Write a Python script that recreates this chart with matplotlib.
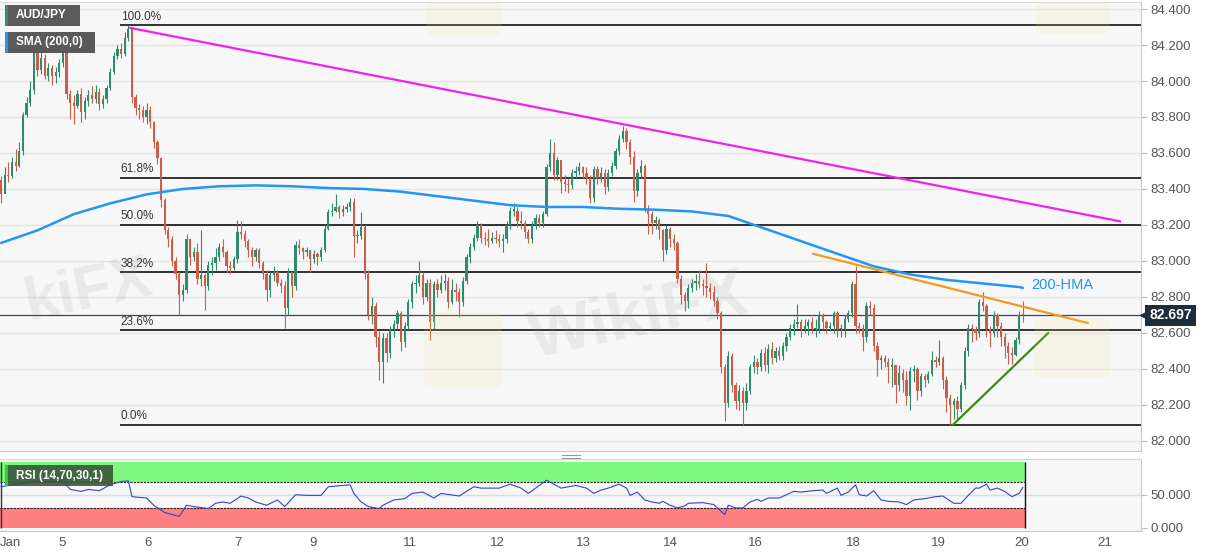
import numpy as np
import matplotlib
matplotlib.use('Agg')
import matplotlib.pyplot as plt
from matplotlib.patches import Rectangle, FancyBboxPatch
from matplotlib.lines import Line2D
import matplotlib.transforms as mtransforms

plt.rcParams['font.family'] = ['Liberation Sans', 'DejaVu Sans']

# ---------------- data (AUD/JPY hourly) ----------------
first_open = 83.45
closes = [
    83.37, 83.48, 83.47, 83.55, 83.53, 83.61, 83.81, 83.88, 83.95, 84.16, 84.06, 84.13, 84.03, 84.07, 84.03, 84.05, 84.10, 84.16,
    83.93, 83.88, 83.86, 83.93, 83.83, 83.89, 83.92, 83.90, 83.94, 83.87, 83.90, 83.96, 84.05, 84.14, 84.18, 84.15, 84.24, 84.29,
    83.91, 83.85, 83.84, 83.80, 83.84, 83.77, 83.66, 83.57, 83.34, 83.17, 83.12, 83.00, 82.93,
    82.81, 82.84, 83.12, 83.02, 83.05, 82.90, 82.92, 82.86, 82.98, 82.99, 83.02, 83.08, 83.05, 82.97, 82.96, 83.01, 83.16, 83.15,
    83.11, 83.06, 83.02, 83.06, 82.99, 82.93, 82.84, 82.92, 82.94, 82.88, 82.86, 82.74, 82.94, 82.86, 83.09, 83.07, 83.05, 83.06,
    83.01, 83.04, 83.02, 83.06, 83.18, 83.27, 83.28, 83.30, 83.27,
    83.29, 83.30, 83.33, 83.14, 83.14, 83.19, 82.93, 82.70, 82.75, 82.58, 82.44, 82.57, 82.49, 82.62, 82.65, 82.71, 82.55, 82.64,
    82.77, 82.87, 82.88, 82.92, 82.80, 82.88, 82.66, 82.87, 82.84, 82.88, 82.89, 82.77, 82.84, 82.83, 82.77, 82.89, 83.02, 83.08,
    83.13, 83.20, 83.13, 83.12, 83.11, 83.13, 83.12, 83.11, 83.12, 83.20, 83.28,
    83.28, 83.22, 83.21, 83.16, 83.12, 83.20, 83.24, 83.21, 83.26, 83.52, 83.60, 83.48, 83.56, 83.44, 83.43, 83.42, 83.49, 83.50,
    83.52, 83.49, 83.46, 83.35, 83.51, 83.46, 83.49, 83.41, 83.49, 83.53, 83.61, 83.68, 83.72, 83.66, 83.58, 83.39, 83.49, 83.53,
    83.29, 83.26, 83.21, 83.23, 83.17, 83.06, 83.18, 83.12, 83.10, 82.90, 82.81,
    82.78, 82.85, 82.88, 82.89, 82.87, 82.86, 82.85, 82.83, 82.78, 82.71, 82.41, 82.21, 82.47, 82.31, 82.22, 82.28, 82.21, 82.28,
    82.41, 82.44, 82.41, 82.49, 82.42, 82.51, 82.46, 82.50, 82.47, 82.53, 82.58, 82.63, 82.65, 82.66, 82.62, 82.64, 82.66, 82.62,
    82.62, 82.70, 82.66, 82.63, 82.64, 82.71, 82.62, 82.62, 82.68, 82.71, 82.87,
    82.64, 82.63, 82.58, 82.75, 82.74, 82.53, 82.45, 82.46, 82.44, 82.41, 82.42, 82.31, 82.38, 82.34, 82.25, 82.39, 82.40, 82.28,
    82.36, 82.34, 82.37, 82.45, 82.44, 82.46, 82.34, 82.24, 82.20, 82.22, 82.18, 82.31, 82.50, 82.63, 82.62, 82.60, 82.77, 82.75,
    82.62, 82.60, 82.70, 82.64, 82.58, 82.53, 82.49, 82.48, 82.56, 82.70, 82.697,
]
highs = [
    83.47, 83.52, 83.55, 83.58, 83.62, 83.66, 83.83, 83.91, 84.00, 84.18, 84.17, 84.17, 84.15, 84.10, 84.09, 84.08, 84.12, 84.18,
    84.17, 83.95, 83.92, 83.95, 83.96, 83.91, 83.95, 83.97, 83.98, 83.96, 83.92, 83.98, 84.07, 84.16, 84.20, 84.21, 84.27, 84.31,
    84.30, 83.93, 83.87, 83.86, 83.88, 83.86, 83.78, 83.67, 83.58, 83.35, 83.19, 83.14, 83.02,
    82.94, 82.87, 83.15, 83.13, 83.08, 83.10, 83.17, 82.93, 83.00, 83.02, 83.07, 83.10, 83.12, 83.06, 83.00, 83.03, 83.23, 83.22,
    83.17, 83.12, 83.08, 83.07, 83.07, 83.00, 82.95, 82.94, 82.97, 82.95, 82.90, 82.89, 82.96, 82.94, 83.11, 83.12, 83.08, 83.08,
    83.06, 83.06, 83.05, 83.08, 83.20, 83.29, 83.32, 83.37, 83.31,
    83.31, 83.32, 83.35, 83.35, 83.17, 83.27, 83.20, 82.95, 82.80, 82.77, 82.61, 82.60, 82.60, 82.64, 82.67, 82.73, 82.72, 82.66,
    82.79, 82.89, 82.92, 83.00, 82.94, 82.90, 82.90, 82.89, 82.90, 82.92, 82.93, 82.91, 82.90, 82.88, 82.85, 82.91, 83.04, 83.10,
    83.15, 83.22, 83.21, 83.16, 83.18, 83.16, 83.17, 83.15, 83.15, 83.22, 83.30,
    83.32, 83.30, 83.28, 83.23, 83.18, 83.22, 83.26, 83.26, 83.28, 83.54, 83.68, 83.66, 83.58, 83.56, 83.48, 83.46, 83.51, 83.53,
    83.55, 83.53, 83.52, 83.48, 83.53, 83.53, 83.52, 83.51, 83.51, 83.55, 83.63, 83.70, 83.75, 83.74, 83.68, 83.61, 83.51, 83.56,
    83.54, 83.31, 83.28, 83.25, 83.24, 83.18, 83.20, 83.19, 83.15, 83.11, 82.92,
    82.83, 82.87, 82.90, 82.93, 82.95, 82.90, 82.99, 82.88, 82.86, 82.80, 82.72, 82.43, 82.50, 82.49, 82.33, 82.31, 82.30, 82.32,
    82.43, 82.48, 82.46, 82.51, 82.52, 82.54, 82.55, 82.52, 82.53, 82.55, 82.60, 82.65, 82.68, 82.76, 82.68, 82.68, 82.68, 82.69,
    82.68, 82.72, 82.71, 82.67, 82.66, 82.72, 82.72, 82.65, 82.70, 82.73, 82.89,
    82.97, 82.66, 82.65, 82.77, 82.78, 82.76, 82.55, 82.48, 82.48, 82.46, 82.46, 82.42, 82.42, 82.40, 82.39, 82.41, 82.42, 82.41,
    82.38, 82.37, 82.39, 82.50, 82.47, 82.56, 82.47, 82.36, 82.26, 82.24, 82.25, 82.33, 82.52, 82.65, 82.65, 82.64, 82.79, 82.83,
    82.76, 82.64, 82.72, 82.71, 82.66, 82.60, 82.55, 82.52, 82.58, 82.72, 82.78,
]
lows = [
    83.32, 83.40, 83.44, 83.46, 83.50, 83.52, 83.59, 83.80, 83.86, 83.93, 84.03, 84.04, 84.01, 84.00, 83.98, 83.99, 84.02, 84.08,
    83.90, 83.79, 83.76, 83.85, 83.77, 83.79, 83.86, 83.88, 83.88, 83.84, 83.85, 83.88, 83.95, 84.04, 84.12, 84.13, 84.14, 84.22,
    83.88, 83.81, 83.79, 83.77, 83.76, 83.74, 83.63, 83.54, 83.30, 83.15, 83.08, 82.97, 82.90,
    82.70, 82.78, 82.82, 82.98, 83.00, 82.87, 82.86, 82.73, 82.84, 82.92, 82.95, 83.00, 83.02, 82.94, 82.93, 82.95, 82.99, 83.12,
    83.08, 83.02, 82.97, 83.00, 82.96, 82.90, 82.78, 82.80, 82.89, 82.86, 82.82, 82.63, 82.70, 82.80, 82.84, 83.04, 83.01, 83.03,
    82.94, 82.99, 82.98, 83.00, 83.05, 83.17, 83.25, 83.27, 83.24,
    83.25, 83.27, 83.28, 83.02, 83.10, 83.12, 82.90, 82.67, 82.65, 82.52, 82.34, 82.32, 82.44, 82.46, 82.58, 82.62, 82.50, 82.52,
    82.62, 82.74, 82.82, 82.86, 82.76, 82.78, 82.56, 82.62, 82.80, 82.82, 82.84, 82.74, 82.76, 82.78, 82.69, 82.75, 82.87, 82.99,
    83.06, 83.11, 83.10, 83.09, 83.08, 83.10, 83.10, 83.08, 83.05, 83.10, 83.18,
    83.25, 83.19, 83.18, 83.13, 83.10, 83.10, 83.18, 83.19, 83.19, 83.25, 83.50, 83.45, 83.45, 83.38, 83.39, 83.38, 83.40, 83.46,
    83.48, 83.46, 83.43, 83.32, 83.33, 83.43, 83.44, 83.37, 83.39, 83.47, 83.51, 83.59, 83.66, 83.62, 83.54, 83.33, 83.36, 83.46,
    83.27, 83.15, 83.15, 83.18, 83.12, 83.00, 83.04, 83.08, 83.06, 82.88, 82.76,
    82.72, 82.74, 82.83, 82.84, 82.85, 82.81, 82.80, 82.79, 82.75, 82.68, 82.38, 82.11, 82.19, 82.27, 82.18, 82.17, 82.09, 82.17,
    82.26, 82.38, 82.37, 82.39, 82.39, 82.38, 82.43, 82.44, 82.45, 82.45, 82.50, 82.56, 82.59, 82.63, 82.58, 82.60, 82.59, 82.60,
    82.58, 82.60, 82.62, 82.60, 82.61, 82.60, 82.58, 82.58, 82.58, 82.66, 82.69,
    82.60, 82.60, 82.50, 82.55, 82.70, 82.50, 82.36, 82.40, 82.41, 82.32, 82.30, 82.21, 82.28, 82.27, 82.20, 82.17, 82.33, 82.23,
    82.25, 82.30, 82.32, 82.36, 82.41, 82.42, 82.29, 82.16, 82.09, 82.12, 82.12, 82.16, 82.29, 82.47, 82.55, 82.56, 82.58, 82.72,
    82.58, 82.52, 82.58, 82.58, 82.53, 82.46, 82.43, 82.43, 82.47, 82.54, 82.66,
]

# 200-period SMA (candle index, value)
sma_pos = [0, 10, 20, 30, 40, 50, 60, 70, 80, 90, 100, 110, 120, 130, 140, 150, 160, 170, 180, 190,
           200, 210, 220, 230, 240, 250, 260, 270, 280, 281]
sma_val = [83.10, 83.17, 83.26, 83.32, 83.37, 83.40, 83.415, 83.42, 83.415, 83.405, 83.40, 83.385, 83.36, 83.335,
           83.31, 83.30, 83.30, 83.29, 83.285, 83.275, 83.25, 83.18, 83.11, 83.04, 82.97, 82.925, 82.895,
           82.875, 82.855, 82.85]

# RSI(14) (candle index, value)
rsi_pos = [0, 3, 6, 10, 14, 17, 19, 22, 24, 27, 30, 33, 35, 36, 40, 42, 45, 49, 51, 53, 57, 59, 61, 63, 66, 68, 70,
           73, 76, 78, 81, 84, 88, 90, 96, 97, 99, 101, 104, 105, 108, 111, 113, 116, 119, 121, 126, 130, 132, 137,
           140, 143, 145, 147, 150, 154, 158, 161, 163,
           165, 167, 170, 172, 173, 175, 177, 179, 181, 182, 184, 186, 188, 189, 193, 196, 199, 200, 202, 204, 206,
           208, 209, 211, 214, 216, 218, 220, 223, 226, 227, 230, 231, 233, 235, 236, 238, 240, 242, 244, 247, 249,
           251, 254, 257, 259, 262, 264, 266, 268, 269, 271, 272, 274, 276, 278, 280, 281]
rsi_val = [62, 65, 67, 71, 70, 71, 58, 55, 58, 56, 65, 70, 71, 47, 45, 34, 23, 17, 34, 32, 29, 37, 39, 37, 48, 45, 39,
           34, 42, 32, 50, 49, 49, 62, 65, 52, 39, 32, 29, 34, 42, 44, 52, 54, 45, 52, 48, 62, 60, 60,
           66, 60, 52, 60, 72, 60, 64, 60, 52,
           57, 60, 66, 60, 49, 54, 42, 39, 37, 40, 34, 30, 33, 37, 38, 35, 20, 34, 30, 30, 39,
           43, 40, 45, 45, 50, 55, 54, 56, 57, 52, 60, 49, 54, 65, 50, 48, 56, 42, 40, 39, 35,
           42, 44, 47, 48, 37, 37, 49, 60, 60, 66, 57, 60, 55, 47, 52, 61]

# trend lines: (candle index, price) pairs
pink_line = [(35.5, 84.295), (307.8, 83.22)]
orange_line = [(223.3, 83.04), (298.9, 82.655)]
green_line = [(261.8, 82.09), (288.0, 82.60)]

fib_ratios = [1.0, 0.618, 0.5, 0.382, 0.236, 0.0]
fib_labels = ['100.0%', '61.8%', '50.0%', '38.2%', '23.6%', '0.0%']

price_ticks = [82.0, 82.2, 82.4, 82.6, 82.8, 83.0, 83.2, 83.4, 83.6, 83.8, 84.0, 84.2, 84.4]
day_pos = [2.5, 16.8, 40.4, 65.2, 85.8, 112.5, 136.4, 160.1, 184.0, 207.4, 234.3, 257.7, 280.8, 303.6]
day_labels = ['Jan', '5', '6', '7', '9', '11', '12', '13', '14', '16', '18', '19', '20', '21']

# ---------------- figure ----------------
W, H = 1207, 555
fig = plt.figure(figsize=(W / 100, H / 100), dpi=100)
fig.patch.set_facecolor('white')


def fx(x):
    return x / W


def fy(y):
    return 1 - y / H


GREEN = '#2e8b6d'
RED = '#cd5c48'
XMIN, XMAX = -0.3, 313.5

ax = fig.add_axes([0, fy(451), fx(1141), (451 - 2) / H])
ax.set_facecolor('#f7f7f7')
ax.set_xlim(XMIN, XMAX)
ax.set_ylim(81.944, 84.439)

for v in price_ticks:
    ax.axhline(v, color='#e3e3e3', lw=1, zorder=0)

# candles
opens = [first_open] + closes[:-1]
idx = np.arange(len(closes))
o = np.array(opens)
c = np.array(closes)
h = np.array(highs)
l = np.array(lows)
col = np.where(c >= o, GREEN, RED)
ax.vlines(idx, l, h, colors=col, lw=0.8, zorder=3)
ax.bar(idx, np.maximum(np.abs(c - o), 0.006), bottom=np.minimum(o, c), width=0.62,
       color=col, edgecolor=col, lw=0, zorder=4)

# fibonacci retracement
hi, lo = max(highs), min(lows)
for r, lab in zip(fib_ratios, fib_labels):
    lvl = lo + r * (hi - lo)
    ax.hlines(lvl, 32.7, XMAX, color='#111111', lw=1.2, zorder=2)
    ax.text(32.9, lvl + 0.014, lab, fontsize=8.5, color='#333333', ha='left', va='bottom', zorder=6)

# current price line
last = closes[-1]
ax.axhline(last, color='#34495e', lw=0.9, zorder=2)

# SMA
ax.plot(sma_pos, sma_val, color='#2196f3', lw=1.8, zorder=5, solid_capstyle='round')
ax.text(283.2, 82.867, '200-HMA', color='#2196f3', fontsize=10.5, ha='left', va='center', zorder=6)

# trend lines
for line, colr in [(pink_line, '#ee22ee'), (orange_line, '#f5981f'), (green_line, '#3b8a12')]:
    xs, ys = zip(*line)
    ax.plot(xs, ys, color=colr, lw=1.6, zorder=6, solid_capstyle='round')

# axis styling
ax.yaxis.tick_right()
ax.set_yticks(price_ticks)
ax.set_yticklabels([f'{v:.3f}' for v in price_ticks])
ax.tick_params(axis='y', length=4, color='#bbbbbb', labelcolor='#555555', labelsize=9.5, pad=3)
ax.set_xticks([])
ax.spines['left'].set_visible(False)
ax.spines['top'].set_color('#dddddd')
ax.spines['right'].set_color('#c8c8c8')
ax.spines['bottom'].set_color('#c8c8c8')

# price tag
trans = mtransforms.blended_transform_factory(ax.transAxes, ax.transData)
ax.plot([1.0025], [last], marker='<', markersize=6, color='#1e2d3d', transform=trans, clip_on=False, zorder=7)
ax.text(1.0072, last, f'{last:.3f}', transform=trans, color='white', fontsize=10, fontweight='bold',
        ha='left', va='center', clip_on=False, zorder=8,
        bbox=dict(boxstyle='square,pad=0.28', fc='#1e2d3d', ec='none'))

# watermarks
ax.text(0.56, 0.295, 'WikiFX', transform=ax.transAxes, fontsize=48, fontweight='bold', color='#8a8a8a',
        alpha=0.13, rotation=12, ha='center', va='center', zorder=7)
ax.text(0.078, 0.355, 'kiFX', transform=ax.transAxes, fontsize=44, fontweight='bold', color='#8a8a8a',
        alpha=0.13, rotation=12, ha='center', va='center', zorder=7)
for (x0, y0, x1, y1) in [(426, 2, 502, 36), (424, 312, 502, 388), (1036, 2, 1110, 34), (1034, 318, 1110, 378)]:
    fig.add_artist(FancyBboxPatch((fx(x0), fy(y1)), fx(x1 - x0), (y1 - y0) / H,
                                  boxstyle='round,pad=0,rounding_size=0.012', transform=fig.transFigure,
                                  fc='#f3dc8a', ec='none', alpha=0.14, zorder=9))

# ---------------- RSI panel ----------------
rax = fig.add_axes([0, fy(531), fx(1141), 72 / H])
rax.set_facecolor('#f7f7f7')
rax.set_xlim(XMIN, XMAX)
rax.set_ylim(-5, 104.1)
band_end = 281.6
rax.axhline(50, color='#dddddd', lw=1, zorder=0)
rax.fill_between([XMIN, band_end], 70, 100, color='#80f880', lw=0, zorder=1)
rax.fill_between([XMIN, band_end], 0, 30, color='#ff8080', lw=0, zorder=1)
rax.hlines([70, 30], XMIN, band_end, colors='#222222', linestyles=(0, (2, 1)), lw=0.8, zorder=2)
rax.vlines([band_end], 0, 100, colors='#111111', lw=1.0, zorder=2)
rax.vlines([0.0], 0, 100, colors='#333333', lw=1.0, zorder=2)
rax.plot(rsi_pos, rsi_val, color='#3344cc', lw=0.8, zorder=3)

rax.yaxis.tick_right()
rax.set_yticks([0, 50])
rax.set_yticklabels(['0.000', '50.000'])
rax.tick_params(axis='y', length=4, color='#bbbbbb', labelcolor='#555555', labelsize=9.5, pad=3)
rax.set_xticks(day_pos)
rax.set_xticklabels(day_labels)
rax.tick_params(axis='x', length=0, labelcolor='#555555', labelsize=9.5, pad=4)
rax.spines['left'].set_visible(False)
rax.spines['top'].set_color('#d8d8d8')
rax.spines['right'].set_color('#c8c8c8')
rax.spines['bottom'].set_color('#c8c8c8')


# ---------------- label boxes ----------------
def label_box(x0, y0, x1, y1, text, accent, fc, fs, alpha=1.0):
    fig.add_artist(Rectangle((fx(x0), fy(y1)), fx(x1 - x0), (y1 - y0) / H, transform=fig.transFigure,
                             facecolor=fc, edgecolor='none', alpha=alpha, zorder=10))
    fig.add_artist(Rectangle((fx(x0), fy(y1)), fx(3), (y1 - y0) / H, transform=fig.transFigure,
                             facecolor=accent, edgecolor='none', zorder=11))
    fig.text(fx(x0 + 11), fy((y0 + y1) / 2), text, color='white', fontsize=fs, fontweight='bold',
             ha='left', va='center', zorder=12)


label_box(5, 5, 80, 26, 'AUD/JPY', '#2f8f7a', '#5a5a5a', 8.5)
label_box(5, 32, 95, 53, 'SMA (200,0)', '#2196f3', '#5a5a5a', 8.5)
label_box(5, 465, 113, 486, 'RSI (14,70,30,1)', '#2ecc2e', '#3b553b', 8.5, alpha=0.9)

# panel grip
for yy in (455, 458):
    fig.add_artist(Line2D([fx(562), fx(580)], [fy(yy), fy(yy)], transform=fig.transFigure,
                          color='#9a9a9a', lw=0.8))

fig.savefig('out.png', dpi=100, facecolor='white')
